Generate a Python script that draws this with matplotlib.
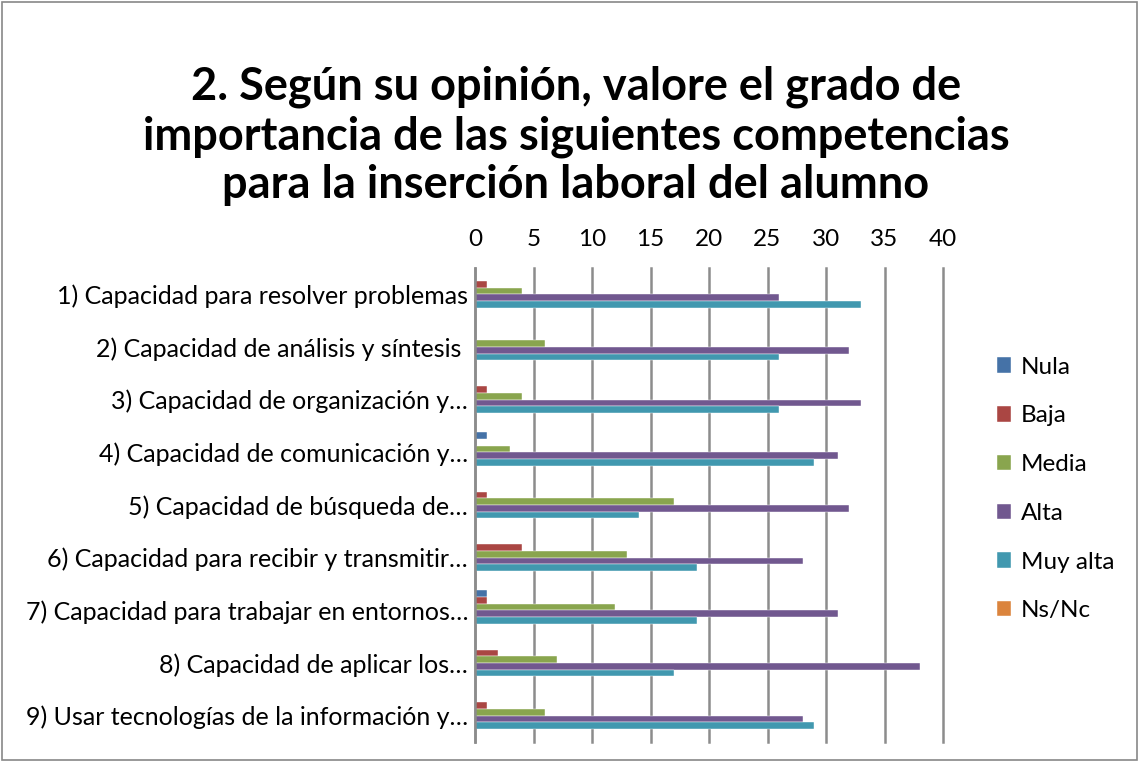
import numpy as np
import matplotlib
matplotlib.use("Agg")
import matplotlib.pyplot as plt
from matplotlib.patches import Rectangle

plt.rcParams['font.family'] = ['Lato', 'DejaVu Sans']

categorias = [
    "1) Capacidad para resolver problemas",
    "2) Capacidad de análisis y síntesis ",
    "3) Capacidad de organización y…",
    "4) Capacidad de comunicación y…",
    "5) Capacidad de búsqueda de…",
    "6) Capacidad para recibir y transmitir…",
    "7) Capacidad para trabajar en entornos…",
    "8) Capacidad de aplicar los…",
    "9) Usar tecnologías de la información y…",
]

series = ["Nula", "Baja", "Media", "Alta", "Muy alta", "Ns/Nc"]
nula = [0, 0, 0, 1, 0, 0, 1, 0, 0]
baja = [1, 0, 1, 0, 1, 4, 1, 2, 1]
media = [4, 6, 4, 3, 17, 13, 12, 7, 6]
alta = [26, 32, 33, 31, 32, 28, 31, 38, 28]
muy_alta = [33, 26, 26, 29, 14, 19, 19, 17, 29]
ns_nc = [0, 0, 0, 0, 0, 0, 0, 0, 0]

colores = ["#4572A7", "#AA4643", "#89A54E", "#71588F", "#4198AF", "#DB843D"]
valores = [nula, baja, media, alta, muy_alta, ns_nc]

fig = plt.figure(figsize=(11.39, 7.62), dpi=100)
fig.patches.append(Rectangle((0.002, 0.003), 0.996, 0.994, transform=fig.transFigure,
                             fill=False, edgecolor="#888888", linewidth=1.2))

ax = fig.add_axes([475 / 1139, 1 - 742 / 762, (943 - 475) / 1139, (742 - 268) / 762])

y = np.arange(len(categorias))
alto = 0.128
for i, (nombre, vals) in enumerate(zip(series, valores)):
    off = (i - 2.5) * alto
    ax.barh(y + off, vals, height=alto, color=colores[i], label=nombre,
            edgecolor="white", linewidth=0.3)

ax.set_xlim(0, 40)
ax.set_ylim(len(categorias) - 0.5, -0.5)
ax.set_xticks(range(0, 41, 5))
ax.xaxis.tick_top()
ax.tick_params(axis='x', length=0, pad=13, labelsize=17.5)
ax.tick_params(axis='y', length=0, pad=5, labelsize=18)
ax.set_yticks(y)
ax.set_yticklabels(categorias)
ax.grid(axis='x', color="#8c8c8c", linewidth=1.8)
for gl in ax.get_xgridlines():
    gl.set_clip_on(False)
ax.set_axisbelow(True)
for s in ["top", "right", "bottom"]:
    ax.spines[s].set_visible(False)
ax.spines["left"].set_color("#8c8c8c")
ax.spines["left"].set_linewidth(1.8)

fig.text(576 / 1139, 1 - 136 / 762,
         "2. Según su opinión, valore el grado de\nimportancia de las siguientes competencias\npara la inserción laboral del alumno",
         ha="center", va="center", fontsize=32.5, fontweight="bold", linespacing=1.2)

fig.legend(loc="center left", bbox_to_anchor=(975 / 1139, 1 - 489 / 762), frameon=False,
           fontsize=17.5, labelspacing=1.14, handlelength=0.6, handleheight=0.6,
           handletextpad=0.4)

fig.savefig("out.png", dpi=100)
